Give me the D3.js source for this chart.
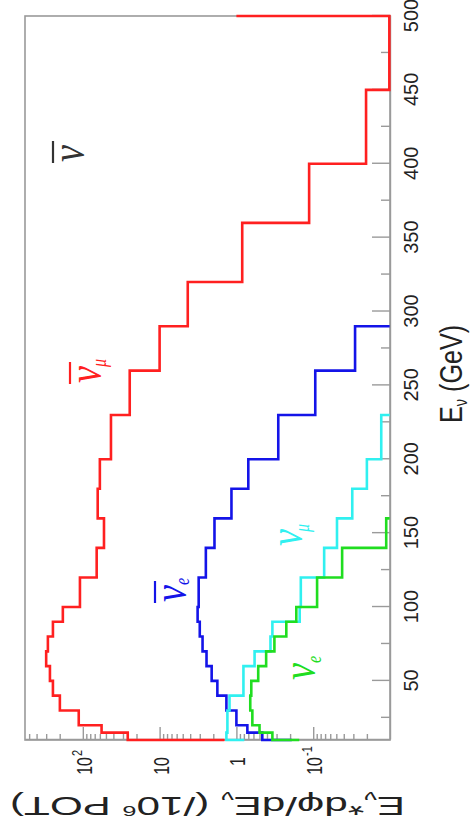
<!DOCTYPE html>
<html>
<head>
<meta charset="utf-8">
<script src="https://cdn.jsdelivr.net/npm/d3@7"></script>
<style>
body { margin: 0; background: #fff; }
text { font-family: "Liberation Sans", Arial, Helvetica, sans-serif; fill: #222; }
.greek { font-family: "Liberation Serif", "DejaVu Serif", serif; font-style: italic; }
</style>
</head>
<body>
<script>
// bin edges (GeV) shared by all four histograms
var edges = [10, 15, 20, 30, 40, 50, 60, 70, 80, 90, 100, 120, 140, 160, 180, 200, 230, 260, 290, 320, 360, 400, 450, 500];

// E*dphi/dE per bin
var antiNuMu = [26, 57, 113, 199, 245, 268, 300, 285, 245, 182, 109, 66, 53, 64, 60, 43, 24.5, 10, 4.3, 0.84, 0.113, 0.0205, 0.0102];
var antiNuE = [0.46, 0.72, 1.0, 1.35, 1.77, 2.1, 2.45, 2.76, 3.0, 3.2, 3.1, 2.5, 1.93, 1.16, 0.70, 0.285, 0.094, 0.0285];
var nuMu = [1.35, 1.31, 1.31, 1.23, 0.81, 0.81, 0.58, 0.36, 0.34, 0.15, 0.145, 0.072, 0.049, 0.031, 0.02, 0.013];
var nuE = [0.34, 0.5, 0.62, 0.66, 0.64, 0.52, 0.41, 0.32, 0.224, 0.166, 0.089, 0.042, 0.0112];

// contents of the bins just outside the drawn range (only their steps show)
var below = [1.43, 0.19, 0.79, 0.152];
var above = [1.0, 0.0101, 0.0101, 0.0101];

var seriesNames = ["antiNuMu", "antiNuE", "nuMu", "nuE"];
var seriesColors = ["#ff2020", "#1414e8", "#30f0f0", "#20dd20"];

// axis ticks
var eMajor = [50, 100, 150, 200, 250, 300, 350, 400, 450, 500];
var eMinor = [25, 75, 125, 175, 225, 275, 325, 375, 425, 475];
var fluxTicks = [100, 10, 1, 0.1];
var fluxBase = ["10", "10", "1", "10"];
var fluxSup = ["2", "", "", "-1"];

var W = 474, H = 836;

var svg = d3.select("body").append("svg")
    .attr("width", W)
    .attr("height", H);

svg.append("rect").attr("width", W).attr("height", H).attr("fill", "#fff");

// whole picture is drawn upright and turned a quarter turn counter-clockwise
var g = svg.append("g")
    .attr("transform", "translate(0," + H + ") rotate(-90)");

var x = d3.scaleLinear().domain([10, 500]).range([96, 820]);
var y = d3.scaleLog().domain([0.01, 566]).range([390, 25]);

var minorFlux = [];
[-2, -1, 0, 1, 2].forEach(function(k){
    for (var m = 2; m <= 9; m++) {
        var v = m * Math.pow(10, k);
        if (v < 566) minorFlux.push(v);
    }
});

//frame
g.append("rect")
    .attr("x", x.range()[0])
    .attr("y", y.range()[1])
    .attr("width", x.range()[1] - x.range()[0])
    .attr("height", y.range()[0] - y.range()[1])
    .attr("fill", "none")
    .attr("stroke", "#9a9a9a")
    .attr("stroke-width", 1.6);

// energy axis
var eAxis = g.append("g")
    .attr("transform", "translate(0," + y.range()[0] + ")")
    .call(d3.axisBottom(x).tickValues(eMajor).tickSize(-18).tickSizeOuter(0)
        .tickPadding(14).tickFormat(d3.format("d")));
g.append("g")
    .attr("transform", "translate(0," + y.range()[0] + ")")
    .call(d3.axisBottom(x).tickValues(eMinor).tickSize(-9).tickSizeOuter(0).tickFormat(""))
    .select(".domain").remove();

eAxis.selectAll("text")
    .attr("font-size", 20)
    .attr("font-family", "Liberation Sans, Arial, sans-serif")
    .attr("fill", "#222");

// flux axis
g.append("g")
    .attr("transform", "translate(" + x.range()[0] + ",0)")
    .call(d3.axisLeft(y).tickValues(fluxTicks).tickSize(-13).tickSizeOuter(0).tickFormat(""));
g.append("g")
    .attr("transform", "translate(" + x.range()[0] + ",0)")
    .call(d3.axisLeft(y).tickValues(minorFlux).tickSize(-6).tickSizeOuter(0).tickFormat(""))
    .select(".domain").remove();

g.selectAll(".domain, .tick line")
    .attr("stroke", "#9a9a9a")
    .attr("stroke-width", 1.4);

fluxTicks.forEach(function(t, i){
    var v = y(t);
    g.append("text")
        .attr("transform", "translate(79," + (v + 9) + ") scale(1,1.38)")
        .attr("text-anchor", "end")
        .attr("font-size", 16)
        .text(fluxBase[i]);
    if (fluxSup[i]) {
        g.append("text")
            .attr("transform", "translate(80," + (v - 1) + ") scale(1,1.3)")
            .attr("font-size", 11)
            .text(fluxSup[i]);
    }
});

// axis titles
var xt = g.append("text")
    .attr("x", 413)
    .attr("y", 462)
    .attr("font-size", 31)
    .attr("textLength", 98)
    .attr("lengthAdjust", "spacingAndGlyphs");
xt.append("tspan").text("E");
xt.append("tspan").attr("dy", 5).attr("font-size", 18).text("ν");
xt.append("tspan").attr("dy", -5).text(" (GeV)");

var yt = g.append("text")
    .attr("transform", "translate(39,405) rotate(-90)")
    .attr("font-size", 25)
    .attr("textLength", 395)
    .attr("lengthAdjust", "spacingAndGlyphs");
yt.append("tspan").text("E");
yt.append("tspan").attr("dy", 5).attr("font-size", 15).text("ν");
yt.append("tspan").attr("dy", -5).text("*dφ/dE");
yt.append("tspan").attr("dy", 5).attr("font-size", 15).text("ν");
yt.append("tspan").attr("dy", -5).text(" (/10");
yt.append("tspan").attr("dy", -9).attr("font-size", 15).text("6");
yt.append("tspan").attr("dy", 9).text(" POT)");

// histograms
var line = d3.line()
    .x(function(d){ return x(d[0]); })
    .y(function(d){ return y(d[1]); });

[antiNuMu, antiNuE, nuMu, nuE].forEach(function(vals, s){
    var pts = [[edges[0], below[s]]];
    vals.forEach(function(v, i){
        pts.push([edges[i], v], [edges[i + 1], v]);
    });
    pts.push([edges[vals.length], above[s]]);
    g.append("path")
        .datum(pts)
        .attr("class", "hist " + seriesNames[s])
        .attr("d", line)
        .attr("fill", "none")
        .attr("stroke", seriesColors[s])
        .attr("stroke-width", 2.6);
});

// particle labels
function nuLabel(u, v, sub, color, bar, su, sv){
    g.append("text")
        .attr("class", "greek")
        .attr("transform", "translate(" + u + "," + v + ") scale(0.8,1)")
        .attr("font-size", 48)
        .style("fill", color)
        .text("ν");
    if (bar) {
        g.append("line")
            .attr("x1", u - 1).attr("x2", u + 21)
            .attr("y1", v - 31).attr("y2", v - 31)
            .attr("stroke", color)
            .attr("stroke-width", 2.2);
    }
    if (sub) {
        g.append("text")
            .attr("class", "greek")
            .attr("transform", "translate(" + su + "," + sv + ") scale(0.8,1)")
            .attr("font-size", 20)
            .style("fill", color)
            .text(sub);
    }
}

nuLabel(674, 84, "", "#333", true);
nuLabel(453, 101, "μ", seriesColors[0], true, 469, 106);
nuLabel(234, 186, "e", seriesColors[1], true, 251, 189);
nuLabel(290, 302, "μ", seriesColors[2], false, 304, 309);
nuLabel(156, 315, "e", seriesColors[3], false, 173, 321);
</script>
</body>
</html>
